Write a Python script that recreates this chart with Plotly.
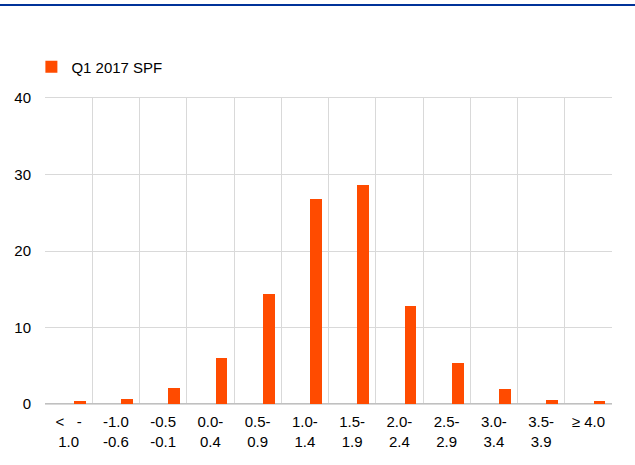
import plotly.graph_objects as go

categories = ["<   -<br>1.0", "-1.0<br>-0.6", "-0.5<br>-0.1", "0.0-<br>0.4", "0.5-<br>0.9",
              "1.0-<br>1.4", "1.5-<br>1.9", "2.0-<br>2.4", "2.5-<br>2.9", "3.0-<br>3.4",
              "3.5-<br>3.9", "≥ 4.0"]
spf_q1_2017 = [0.35, 0.7, 2.1, 6.05, 14.4, 26.85, 28.6, 12.85, 5.35, 1.95, 0.55, 0.4]
y_ticks = [0, 10, 20, 30, 40]

fig = go.Figure()
fig.add_trace(go.Bar(
    x=categories, y=spf_q1_2017, name="Q1 2017 SPF",
    marker=dict(color="#ff4b00", line=dict(width=0)),
    width=0.25, offset=0.11,
))

W, H = 635, 465
ml, mr, mt, mb = 45, 23, 98, 61
pw = W - ml - mr
ph = H - mt - mb

fig.update_layout(
    width=W, height=H,
    margin=dict(l=ml, r=mr, t=mt, b=mb, autoexpand=False),
    paper_bgcolor="white", plot_bgcolor="white",
    font=dict(family="Liberation Sans, Arial, sans-serif", size=15, color="#000000"),
    showlegend=True,
    legend=dict(orientation="h", x=-0.024, xanchor="left", y=(404 - 67) / ph, yanchor="middle",
                font=dict(size=15), itemwidth=30),
    bargap=0,
    shapes=[dict(type="line", xref="paper", yref="paper",
                 x0=-ml / pw, x1=1 + mr / pw, y0=1 + (mt - 5) / ph, y1=1 + (mt - 5) / ph,
                 line=dict(color="#003299", width=2))],
)
fig.update_xaxes(
    type="category", range=[-0.5, len(categories) - 0.5], automargin=False,
    tickson="boundaries", showgrid=True, gridcolor="#d9d9d9", gridwidth=1,
    ticks="", showline=True, linecolor="#d9d9d9", mirror=True,
    tickfont=dict(size=15), tickangle=0, ticklabelstandoff=4,
)
fig.update_yaxes(
    range=[0, 40], tickvals=y_ticks, showgrid=True, gridcolor="#d9d9d9", gridwidth=1,
    zeroline=True, zerolinecolor="#c0c0c0", zerolinewidth=2, automargin=False,
    showline=False, ticks="", tickfont=dict(size=15), ticklabelstandoff=13,
)

fig.write_html("out.html", config={"displayModeBar": False},
               post_script="document.body.style.margin='0';document.body.style.overflow='hidden';")
